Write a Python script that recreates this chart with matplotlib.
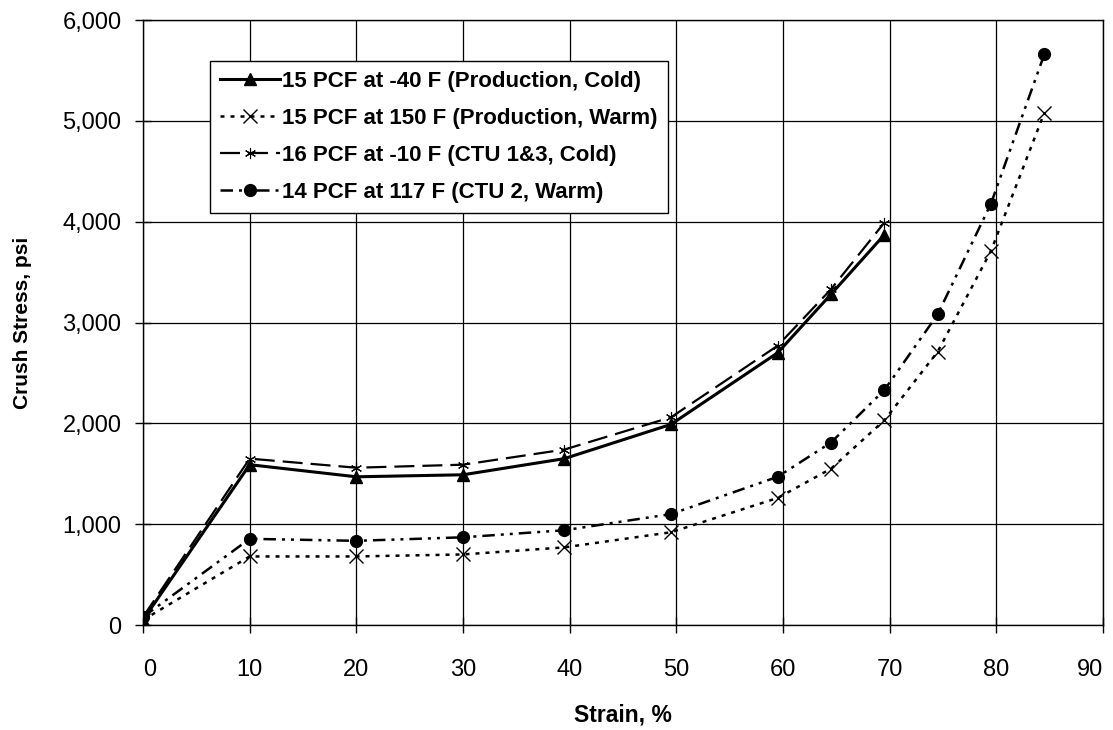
import matplotlib.pyplot as plt
from matplotlib.ticker import FuncFormatter

# strain (%) and crush stress (psi)
strain_cold = [0, 10, 20, 30, 39.5, 49.5, 59.5, 64.5, 69.5]
prod_cold = [50, 1590, 1470, 1490, 1650, 1990, 2700, 3280, 3870]
ctu_cold = [80, 1650, 1560, 1590, 1740, 2060, 2770, 3330, 3990]

strain_warm = [0, 10, 20, 30, 39.5, 49.5, 59.5, 64.5, 69.5, 74.5, 79.5, 84.5]
prod_warm = [50, 680, 680, 700, 770, 920, 1260, 1550, 2030, 2710, 3710, 5080]
ctu_warm = [80, 855, 835, 870, 940, 1100, 1470, 1810, 2330, 3080, 4180, 5660]

labels = ['15 PCF at -40 F (Production, Cold)',
          '15 PCF at 150 F (Production, Warm)',
          '16 PCF at -10 F (CTU 1&3, Cold)',
          '14 PCF at 117 F (CTU 2, Warm)']

plt.rcParams['font.family'] = 'Liberation Sans'

fig = plt.figure(figsize=(11.13, 7.3), dpi=100)
ax = fig.add_axes([0.1285, 0.1438, 0.8625, 0.8288])

ax.plot(strain_cold, prod_cold, color='black', lw=2.2, marker='^', ms=8, label=labels[0])
ax.plot(strain_warm, prod_warm, color='black', lw=1.8, ls=(0, (1.6, 2.4)), marker='x', ms=10,
        mew=1.0, label=labels[1])
ax.plot(strain_cold, ctu_cold, color='black', lw=1.6, ls=(0, (9, 3.6)), marker=(6, 2, 0), ms=8,
        mew=0.8, label=labels[2])
ax.plot(strain_warm, ctu_warm, color='black', lw=1.8, ls=(0, (5, 2.4, 1.2, 2.4, 1.2, 2.4)),
        marker='o', ms=8.5, label=labels[3])

ax.set_xlim(0, 90)
ax.set_ylim(0, 6000)
ax.set_xticks(range(0, 91, 10))
ax.set_yticks(range(0, 6001, 1000))
ax.yaxis.set_major_formatter(FuncFormatter(lambda v, p: f'{int(v):,}'))
ax.grid(True, color='black', lw=0.9)
for s in ax.spines.values():
    s.set_color('black')
    s.set_linewidth(1.0)
ax.tick_params(direction='inout', length=11, width=1.0, colors='black', labelsize=17)
ax.tick_params(axis='y', pad=10)
ax.tick_params(axis='x', pad=19)
xt = ax.get_xticklabels()
xt[0].set_ha('left')
xt[-1].set_ha('right')

ax.set_xlabel('Strain, %', fontsize=16.5, fontweight='bold', labelpad=16)
ax.set_ylabel('Crush Stress, psi', fontsize=15, fontweight='bold', labelpad=22)

leg = ax.legend(loc='upper left', bbox_to_anchor=(0.0698, 0.9325),
                prop={'weight': 'bold', 'size': 16}, frameon=True, fancybox=False,
                edgecolor='black', framealpha=1, handlelength=2.7, handletextpad=0.1,
                labelspacing=0.72, borderpad=0.45, borderaxespad=0)
leg.get_frame().set_linewidth(1.0)

fig.savefig('out.png', dpi=100)
